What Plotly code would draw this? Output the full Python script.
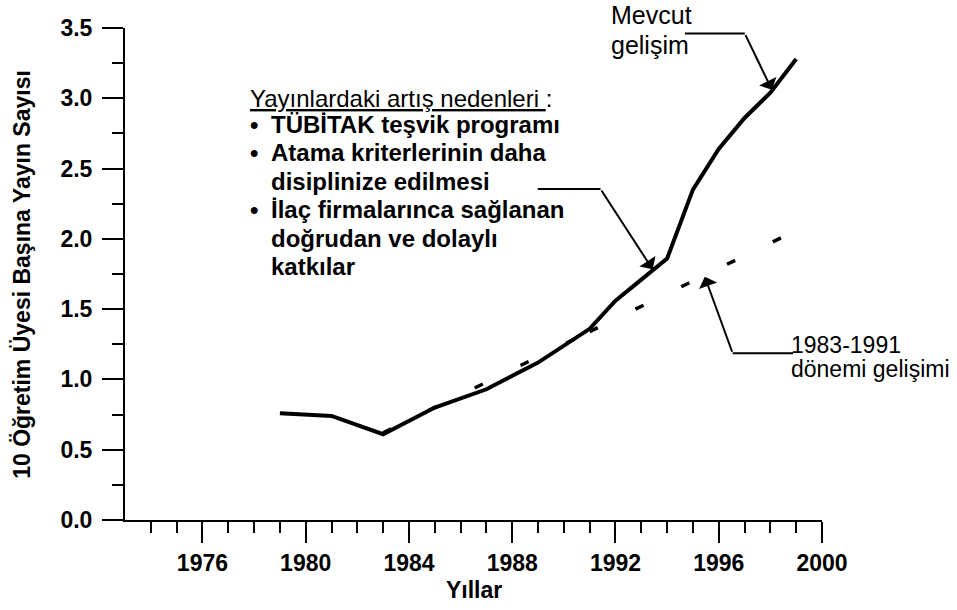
import plotly.graph_objects as go

# Mevcut gelişim (solid line)
years = [1979, 1981, 1983, 1985, 1987, 1989, 1991, 1992, 1993, 1994, 1995, 1996, 1997, 1998, 1999]
yayin = [0.76, 0.74, 0.61, 0.80, 0.93, 1.12, 1.36, 1.56, 1.71, 1.86, 2.35, 2.64, 2.86, 3.04, 3.28]

# 1983-1991 dönemi gelişimi (dashed trend: fitted part, then extrapolation)
fit_years = [1983, 1991]
fit_vals = [0.62, 1.34]
proj_years = [1991, 1999]
proj_vals = [1.34, 2.06]

x_major = [1976, 1980, 1984, 1988, 1992, 1996, 2000]
x_minor = [y for y in range(1974, 2000) if y not in x_major]

FONT = "Arial, Liberation Sans, sans-serif"

fig = go.Figure()
for xs, ys in [(fit_years, fit_vals), (proj_years, proj_vals)]:
    fig.add_trace(go.Scatter(x=xs, y=ys, mode="lines",
                             line=dict(color="black", width=3.5, dash="9px,42px"),
                             showlegend=False, hoverinfo="skip"))
fig.add_trace(go.Scatter(x=years, y=yayin, mode="lines",
                         line=dict(color="black", width=4),
                         showlegend=False))

fig.update_layout(
    width=957, height=610,
    margin=dict(l=125, r=135, t=28, b=90),
    plot_bgcolor="white", paper_bgcolor="white",
    font=dict(family=FONT, color="black", size=23),
)

fig.update_xaxes(
    range=[1973, 2000], tickmode="array", tickvals=x_major, automargin=False,
    ticks="outside", ticklen=21, tickwidth=2, tickcolor="black",
    showline=True, linewidth=2, linecolor="black", showgrid=False, zeroline=False,
    tickfont=dict(size=23, weight="bold"), ticklabelstandoff=0,
    minor=dict(tickmode="array", tickvals=x_minor, ticks="outside", ticklen=11,
               tickwidth=2, tickcolor="black", showgrid=False),
)
fig.update_yaxes(
    range=[0, 3.5], dtick=0.5, tick0=0, tickformat=".1f", automargin=False,
    ticks="outside", ticklen=21, tickwidth=2, tickcolor="black",
    showline=True, linewidth=2, linecolor="black", showgrid=False, zeroline=False,
    tickfont=dict(size=23, weight="bold"), ticklabelstandoff=5,
    minor=dict(dtick=0.25, ticks="outside", ticklen=11, tickwidth=2,
               tickcolor="black", showgrid=False),
)

# axis titles
fig.add_annotation(x=-0.148, y=0.5, xref="paper", yref="paper", showarrow=False,
                   text="10 Öğretim Üyesi Başına Yayın Sayısı", textangle=-90,
                   xanchor="center", yanchor="middle",
                   font=dict(size=23, weight="bold"))
fig.add_annotation(x=0.5, y=-0.142, xref="paper", yref="paper", showarrow=False,
                   text="Yıllar", xanchor="center", yanchor="middle",
                   font=dict(size=23, weight="bold"))


# text blocks
def txt(x, y, s, size=23, bold=False, yref="y"):
    fig.add_annotation(x=x, y=y, xref="x", yref=yref, text=s, showarrow=False,
                       xanchor="left", yanchor="middle", borderpad=0,
                       font=dict(size=size, family=FONT, color="black",
                                 weight="bold" if bold else "normal"))

txt(1991.78, 1.026, "Mevcut", size=25, yref="paper")
txt(1991.78, 0.965, "gelişim", size=25, yref="paper")

txt(1977.80, 3.00, "<u>Yayınlardaki artış nedenleri </u>:", size=24)
for yy in [2.817, 2.611, 2.207]:
    txt(1977.80, yy, "•", size=24, bold=True)
txt(1978.62, 2.817, "TÜBİTAK teşvik programı", size=24, bold=True)
txt(1978.62, 2.611, "Atama kriterlerinin daha", size=24, bold=True)
txt(1978.62, 2.409, "disiplinize edilmesi", size=24, bold=True)
txt(1978.62, 2.207, "İlaç firmalarınca sağlanan", size=24, bold=True)
txt(1978.62, 2.001, "doğrudan ve dolaylı", size=24, bold=True)
txt(1978.62, 1.804, "katkılar", size=24, bold=True)

txt(1998.76, 1.247, "1983-1991", size=23)
txt(1998.76, 1.071, "dönemi gelişimi", size=23)

# arrow callouts: horizontal leg + arrow
legs = [
    (1994.69, 1997.01, 3.46, 1998.06, 3.06),
    (1988.99, 1991.42, 2.355, 1993.44, 1.783),
    (1998.88, 1996.54, 1.186, 1995.46, 1.731),
]
for x0, xb, yb, xt, yt in legs:
    fig.add_shape(type="line", x0=x0, x1=xb, y0=yb, y1=yb, xref="x", yref="y",
                  line=dict(color="black", width=2))
    fig.add_annotation(x=xt, y=yt, ax=xb, ay=yb, axref="x", ayref="y",
                       xref="x", yref="y", text="", showarrow=True,
                       arrowhead=1, arrowsize=1.6, arrowwidth=2,
                       arrowcolor="black", standoff=0)

# page has a default 8px body margin; remove it so the figure sits at 0,0
fig.write_html("out.html", config={"displayModeBar": False},
               post_script="document.body.style.margin='0';"
                           "document.body.style.overflow='hidden';")
